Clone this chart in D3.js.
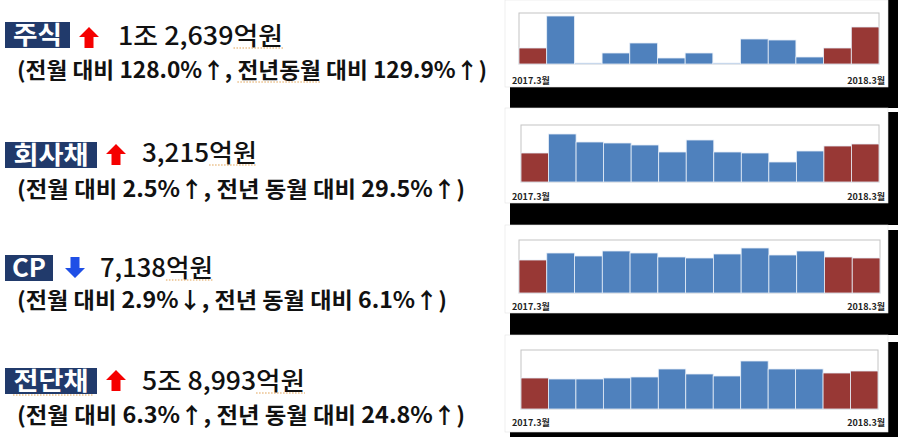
<!DOCTYPE html>
<html>
<head>
<meta charset="utf-8">
<script src="https://cdn.jsdelivr.net/npm/d3@7"></script>
<style>
  html, body { margin: 0; padding: 0; background: #fff; }
  svg { display: block; }
</style>
</head>
<body>
<svg id="canvas" width="898" height="437"></svg>
<script>
// months shown in each mini chart
const months = ['2017.3', '2017.4', '2017.5', '2017.6', '2017.7', '2017.8', '2017.9',
  '2017.10', '2017.11', '2017.12', '2018.1', '2018.2', '2018.3'];
const firstLabel = '2017.3월';
const lastLabel = '2018.3월';

// issuance per month (relative units)
const stockValues = [16, 48, 1, 11, 21, 6, 11, 1, 25, 24, 7, 16, 37];
const corpBondValues = [29, 48, 40, 39, 37, 30, 42, 30, 29, 20, 31, 36, 38];
const cpValues = [33, 40, 37, 42, 40, 36, 35, 39, 45, 38, 42, 36, 35];
const esbValues = [31, 30, 30, 31, 32, 40, 35, 33, 48, 40, 40, 36, 38];
const valueMax = [51, 57, 53, 59];

// text blocks on the left
const names = ['주식', '회사채', 'CP', '전단채'];
const amounts = ['1조 2,639억원', '3,215억원', '7,138억원', '5조 8,993억원'];
const changes = [
  '(전월 대비 128.0%↑, 전년동월 대비 129.9%↑)',
  '(전월 대비 2.5%↑, 전년 동월 대비 29.5%↑)',
  '(전월 대비 2.9%↓, 전년 동월 대비 6.1%↑)',
  '(전월 대비 6.3%↑, 전년 동월 대비 24.8%↑)'
];
const directions = ['up', 'up', 'down', 'up'];

const allSeries = [stockValues, corpBondValues, cpValues, esbValues];

// layout of each row
const rows = [
  { boxY: 22, boxW: 65, nameW: 49, arrowX: 79, arrowY: 27, amtX: 118, amtY: 45, amtW: 165, chgY: 78, chgW: 470,
    panelY: 0, panelH: 87, shadowY: 0, shadowB: 108, plot: [519, 879, 13, 64], lblY: 84 },
  { boxY: 142, boxW: 92, nameW: 75, arrowX: 106, arrowY: 144, amtX: 142, amtY: 162, amtW: 115, chgY: 197, chgW: 448,
    panelY: 108, panelH: 95, shadowY: 112, shadowB: 225, plot: [521, 879, 125, 182], lblY: 200 },
  { boxY: 255, boxW: 48, nameW: 34, arrowX: 65, arrowY: 257, amtX: 100, amtY: 277, amtW: 113, chgY: 308, chgW: 430,
    panelY: 225, panelH: 88, shadowY: 230, shadowB: 335, plot: [519, 880, 240, 293], lblY: 310 },
  { boxY: 368, boxW: 92, nameW: 75, arrowX: 106, arrowY: 370, amtX: 142, amtY: 390, amtW: 163, chgY: 423, chgW: 448,
    panelY: 335, panelH: 97, shadowY: 342, shadowB: 437, plot: [521, 878, 350, 409], lblY: 426 }
];

const svg = d3.select('#canvas');
const KR = "'Noto Sans CJK KR', 'Noto Sans', sans-serif";

function wavy(x1, x2, y) {
	svg.append('line')
		.attr('x1', x1).attr('x2', x2).attr('y1', y).attr('y2', y)
		.attr('stroke', '#e0a050').attr('stroke-width', 1.2)
		.attr('stroke-dasharray', '1.5,1.5');
}

rows.forEach((r, i) => {
	// ---- left text block
	svg.append('rect')
		.attr('x', 5).attr('y', r.boxY).attr('width', r.boxW).attr('height', 26)
		.attr('fill', '#213a6b');
	svg.append('text')
		.attr('x', 5 + r.boxW / 2).attr('y', r.boxY + 22)
		.attr('text-anchor', 'middle')
		.attr('fill', '#fff').attr('font-family', KR).attr('font-weight', 700)
		.attr('font-size', 25)
		.attr('textLength', r.nameW).attr('lengthAdjust', 'spacingAndGlyphs')
		.text(names[i]);

	const up = directions[i] === 'up';
	const arrow = up
		? 'M10,0 L20,10 L14.5,10 L14.5,21 L5.5,21 L5.5,10 L0,10 Z'
		: 'M10,21 L20,11 L14.5,11 L14.5,0 L5.5,0 L5.5,11 L0,11 Z';
	svg.append('path')
		.attr('d', arrow)
		.attr('transform', `translate(${r.arrowX},${r.arrowY})`)
		.attr('fill', up ? '#f50000' : '#1f4fe6');

	const amt = svg.append('text')
		.attr('x', r.amtX).attr('y', r.amtY)
		.attr('font-family', KR).attr('font-weight', 500).attr('font-size', 25)
		.attr('fill', '#111')
		.attr('textLength', r.amtW).attr('lengthAdjust', 'spacingAndGlyphs')
		.text(amounts[i]);

	const chg = svg.append('text')
		.attr('x', 17).attr('y', r.chgY)
		.attr('font-family', KR).attr('font-weight', 700).attr('font-size', 22)
		.attr('fill', '#111')
		.attr('textLength', r.chgW).attr('lengthAdjust', 'spacingAndGlyphs')
		.text(changes[i]);

	// spell-check squiggles seen in the source
	const an = amt.node();
	const k = amounts[i].indexOf('억');
	wavy(an.getStartPositionOfChar(k).x, an.getEndPositionOfChar(k + 1).x, r.amtY + 3);
	if (i === 0) {
		const cn = chg.node();
		const j = changes[i].indexOf('전년동월');
		wavy(cn.getStartPositionOfChar(j).x, cn.getEndPositionOfChar(j + 3).x, r.chgY + 4);
	}
	if (i === 3) wavy(13, 93, r.boxY + 27);

	// ---- panel with black drop shadow
	svg.append('rect')
		.attr('x', 510).attr('y', r.shadowY)
		.attr('width', 388).attr('height', r.shadowB - r.shadowY)
		.attr('fill', '#000');
	svg.append('rect')
		.attr('x', 505).attr('y', r.panelY)
		.attr('width', 383).attr('height', r.panelH)
		.attr('fill', '#fff').attr('stroke', '#e4e4e4').attr('stroke-width', 0.6);

	const [x0, x1, y0, y1] = r.plot;
	const x = d3.scaleBand().domain(months).range([x0, x1]).padding(0);
	const y = d3.scaleLinear().domain([0, valueMax[i]]).range([y1, y0]);

	svg.append('rect')
		.attr('x', x0).attr('y', y0).attr('width', x1 - x0).attr('height', y1 - y0)
		.attr('fill', '#fff').attr('stroke', '#c4c4c4').attr('stroke-width', 1);

	const n = months.length;
	svg.append('g')
		.selectAll('rect')
		.data(allSeries[i])
		.enter()
		.append('rect')
		.attr('x', (d, idx) => x(months[idx]))
		.attr('y', (d) => y(d))
		.attr('width', x.bandwidth())
		.attr('height', (d) => y(0) - y(d))
		.attr('fill', (d, idx) => (idx === 0 || idx >= n - 2) ? '#983835' : '#4f81bd')
		.attr('stroke', '#e6eef8')
		.attr('stroke-width', 0.8);

	svg.append('text')
		.attr('x', 512).attr('y', r.lblY)
		.attr('font-family', KR).attr('font-weight', 700).attr('font-size', 9)
		.attr('fill', '#222')
		.text(firstLabel);
	svg.append('text')
		.attr('x', 885).attr('y', r.lblY)
		.attr('text-anchor', 'end')
		.attr('font-family', KR).attr('font-weight', 700).attr('font-size', 9)
		.attr('fill', '#222')
		.text(lastLabel);
});
</script>
</body>
</html>
